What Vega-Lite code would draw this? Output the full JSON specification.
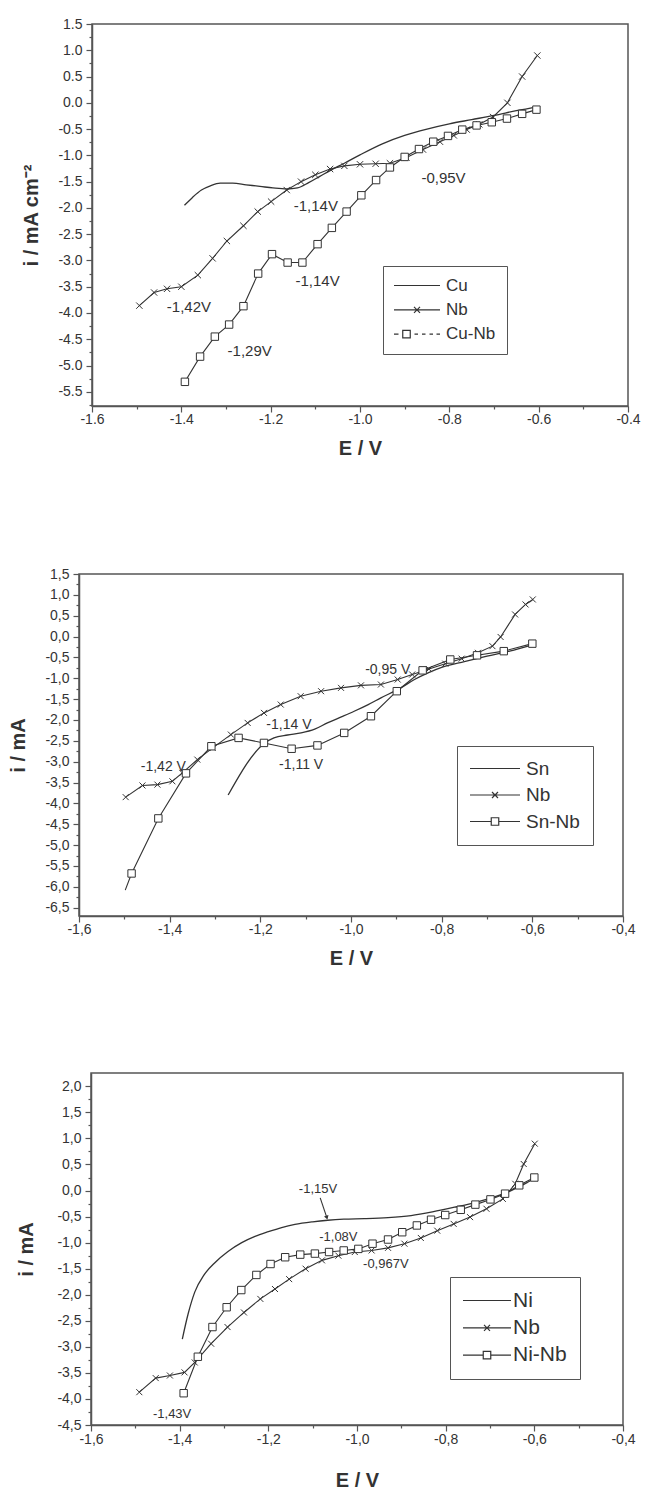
{
  "$schema": "https://vega.github.io/schema/vega-lite/v6.json",
  "padding": {"left": 5, "top": 16, "right": 5, "bottom": 0},
  "background": "white",
  "config": {
    "font": "Liberation Sans",
    "view": {"stroke": "#555", "strokeWidth": 1.5},
    "axis": {"grid": false, "domainColor": "#555", "domainWidth": 1.5, "tickColor": "#555", "tickWidth": 1.2, "labelColor": "#333", "titleColor": "#333", "labelFont": "Liberation Sans", "titleFont": "Liberation Sans", "labelFontSize": 14, "titleFontSize": 20, "titleFontWeight": "bold", "labelFlush": false, "labelOverlap": false},
    "axisX": {"labelPadding": 0},
    "axisY": {"labelPadding": 4}
  },
  "datasets": {
    "p1": [
      {"s":"Cu","E":-1.393,"i":-1.95},{"s":"Cu","E":-1.375,"i":-1.8},{"s":"Cu","E":-1.355,"i":-1.66},{"s":"Cu","E":-1.335,"i":-1.58},{"s":"Cu","E":-1.313,"i":-1.53},{"s":"Cu","E":-1.285,"i":-1.53},{"s":"Cu","E":-1.255,"i":-1.56},{"s":"Cu","E":-1.224,"i":-1.59},{"s":"Cu","E":-1.195,"i":-1.62},{"s":"Cu","E":-1.164,"i":-1.64},{"s":"Cu","E":-1.14,"i":-1.62},{"s":"Cu","E":-1.115,"i":-1.52},{"s":"Cu","E":-1.09,"i":-1.4},{"s":"Cu","E":-1.065,"i":-1.28},{"s":"Cu","E":-1.035,"i":-1.15},{"s":"Cu","E":-1.0,"i":-0.99},{"s":"Cu","E":-0.95,"i":-0.78},{"s":"Cu","E":-0.9,"i":-0.62},{"s":"Cu","E":-0.85,"i":-0.5},{"s":"Cu","E":-0.8,"i":-0.4},{"s":"Cu","E":-0.75,"i":-0.32},{"s":"Cu","E":-0.7,"i":-0.24},{"s":"Cu","E":-0.65,"i":-0.15},{"s":"Cu","E":-0.6,"i":-0.07},
      {"s":"Nb","E":-1.494,"i":-3.86},{"s":"Nb","E":-1.461,"i":-3.61},{"s":"Nb","E":-1.432,"i":-3.54},{"s":"Nb","E":-1.4,"i":-3.5},{"s":"Nb","E":-1.363,"i":-3.28},{"s":"Nb","E":-1.33,"i":-2.96},{"s":"Nb","E":-1.298,"i":-2.63},{"s":"Nb","E":-1.261,"i":-2.34},{"s":"Nb","E":-1.229,"i":-2.07},{"s":"Nb","E":-1.199,"i":-1.88},{"s":"Nb","E":-1.164,"i":-1.66},{"s":"Nb","E":-1.132,"i":-1.5},{"s":"Nb","E":-1.1,"i":-1.37},{"s":"Nb","E":-1.067,"i":-1.26},{"s":"Nb","E":-1.035,"i":-1.2},{"s":"Nb","E":-1.0,"i":-1.17},{"s":"Nb","E":-0.965,"i":-1.16},{"s":"Nb","E":-0.933,"i":-1.15},{"s":"Nb","E":-0.896,"i":-1.04},{"s":"Nb","E":-0.859,"i":-0.89},{"s":"Nb","E":-0.821,"i":-0.74},{"s":"Nb","E":-0.79,"i":-0.62},{"s":"Nb","E":-0.761,"i":-0.51},{"s":"Nb","E":-0.733,"i":-0.41},{"s":"Nb","E":-0.702,"i":-0.27},{"s":"Nb","E":-0.67,"i":0.0},{"s":"Nb","E":-0.637,"i":0.5},{"s":"Nb","E":-0.603,"i":0.9},
      {"s":"Cu-Nb","E":-1.392,"i":-5.31},{"s":"Cu-Nb","E":-1.358,"i":-4.83},{"s":"Cu-Nb","E":-1.325,"i":-4.45},{"s":"Cu-Nb","E":-1.293,"i":-4.22},{"s":"Cu-Nb","E":-1.261,"i":-3.87},{"s":"Cu-Nb","E":-1.228,"i":-3.25},{"s":"Cu-Nb","E":-1.197,"i":-2.88},{"s":"Cu-Nb","E":-1.162,"i":-3.04},{"s":"Cu-Nb","E":-1.129,"i":-3.04},{"s":"Cu-Nb","E":-1.095,"i":-2.69},{"s":"Cu-Nb","E":-1.063,"i":-2.38},{"s":"Cu-Nb","E":-1.03,"i":-2.07},{"s":"Cu-Nb","E":-0.997,"i":-1.76},{"s":"Cu-Nb","E":-0.964,"i":-1.47},{"s":"Cu-Nb","E":-0.933,"i":-1.23},{"s":"Cu-Nb","E":-0.9,"i":-1.03},{"s":"Cu-Nb","E":-0.868,"i":-0.88},{"s":"Cu-Nb","E":-0.836,"i":-0.74},{"s":"Cu-Nb","E":-0.803,"i":-0.63},{"s":"Cu-Nb","E":-0.771,"i":-0.51},{"s":"Cu-Nb","E":-0.739,"i":-0.43},{"s":"Cu-Nb","E":-0.705,"i":-0.37},{"s":"Cu-Nb","E":-0.671,"i":-0.3},{"s":"Cu-Nb","E":-0.637,"i":-0.21},{"s":"Cu-Nb","E":-0.605,"i":-0.13}
    ],
    "p1t": [
      {"t":"-0,95V","E":-0.813,"i":-1.43},{"t":"-1,14V","E":-1.099,"i":-1.96},{"t":"-1,14V","E":-1.095,"i":-3.39},{"t":"-1,42V","E":-1.383,"i":-3.88},{"t":"-1,29V","E":-1.247,"i":-4.72}
    ],
    "p2": [
      {"s":"Sn","E":-1.271,"i":-3.8},{"s":"Sn","E":-1.19,"i":-2.55},{"s":"Sn","E":-1.17,"i":-2.43},{"s":"Sn","E":-1.14,"i":-2.36},{"s":"Sn","E":-1.11,"i":-2.31},{"s":"Sn","E":-1.08,"i":-2.22},{"s":"Sn","E":-1.052,"i":-2.07},{"s":"Sn","E":-1.02,"i":-1.92},{"s":"Sn","E":-0.993,"i":-1.79},{"s":"Sn","E":-0.962,"i":-1.63},{"s":"Sn","E":-0.934,"i":-1.47},{"s":"Sn","E":-0.89,"i":-1.23},{"s":"Sn","E":-0.86,"i":-1.03},{"s":"Sn","E":-0.83,"i":-0.87},{"s":"Sn","E":-0.8,"i":-0.74},{"s":"Sn","E":-0.75,"i":-0.6},{"s":"Sn","E":-0.7,"i":-0.47},{"s":"Sn","E":-0.65,"i":-0.35},{"s":"Sn","E":-0.6,"i":-0.2},
      {"s":"Nb","E":-1.497,"i":-3.85},{"s":"Nb","E":-1.46,"i":-3.57},{"s":"Nb","E":-1.427,"i":-3.55},{"s":"Nb","E":-1.394,"i":-3.47},{"s":"Nb","E":-1.372,"i":-3.27},{"s":"Nb","E":-1.339,"i":-2.95},{"s":"Nb","E":-1.305,"i":-2.67},{"s":"Nb","E":-1.265,"i":-2.35},{"s":"Nb","E":-1.228,"i":-2.07},{"s":"Nb","E":-1.192,"i":-1.83},{"s":"Nb","E":-1.155,"i":-1.63},{"s":"Nb","E":-1.111,"i":-1.43},{"s":"Nb","E":-1.066,"i":-1.31},{"s":"Nb","E":-1.022,"i":-1.23},{"s":"Nb","E":-0.978,"i":-1.17},{"s":"Nb","E":-0.934,"i":-1.15},{"s":"Nb","E":-0.897,"i":-1.03},{"s":"Nb","E":-0.865,"i":-0.91},{"s":"Nb","E":-0.828,"i":-0.78},{"s":"Nb","E":-0.792,"i":-0.65},{"s":"Nb","E":-0.756,"i":-0.53},{"s":"Nb","E":-0.72,"i":-0.39},{"s":"Nb","E":-0.688,"i":-0.23},{"s":"Nb","E":-0.67,"i":-0.01},{"s":"Nb","E":-0.638,"i":0.53},{"s":"Nb","E":-0.615,"i":0.77},{"s":"Nb","E":-0.599,"i":0.89},
      {"s":"Sn-Nb","E":-1.498,"i":-6.08,"mk":0},{"s":"Sn-Nb","E":-1.484,"i":-5.68},{"s":"Sn-Nb","E":-1.425,"i":-4.36},{"s":"Sn-Nb","E":-1.364,"i":-3.28},{"s":"Sn-Nb","E":-1.308,"i":-2.63},{"s":"Sn-Nb","E":-1.248,"i":-2.43},{"s":"Sn-Nb","E":-1.192,"i":-2.55},{"s":"Sn-Nb","E":-1.131,"i":-2.69},{"s":"Sn-Nb","E":-1.074,"i":-2.61},{"s":"Sn-Nb","E":-1.015,"i":-2.31},{"s":"Sn-Nb","E":-0.956,"i":-1.91},{"s":"Sn-Nb","E":-0.899,"i":-1.31},{"s":"Sn-Nb","E":-0.842,"i":-0.81},{"s":"Sn-Nb","E":-0.781,"i":-0.55},{"s":"Sn-Nb","E":-0.722,"i":-0.45},{"s":"Sn-Nb","E":-0.663,"i":-0.35},{"s":"Sn-Nb","E":-0.6,"i":-0.17}
    ],
    "p2t": [
      {"t":"-0,95 V","E":-0.919,"i":-0.81},{"t":"-1,14 V","E":-1.137,"i":-2.13},{"t":"-1,11 V","E":-1.11,"i":-3.07},{"t":"-1,42 V","E":-1.414,"i":-3.12}
    ],
    "p3": [
      {"s":"Ni","E":-1.394,"i":-2.85},{"s":"Ni","E":-1.381,"i":-2.37},{"s":"Ni","E":-1.366,"i":-1.95},{"s":"Ni","E":-1.345,"i":-1.62},{"s":"Ni","E":-1.32,"i":-1.38},{"s":"Ni","E":-1.291,"i":-1.17},{"s":"Ni","E":-1.26,"i":-1.0},{"s":"Ni","E":-1.23,"i":-0.88},{"s":"Ni","E":-1.2,"i":-0.79},{"s":"Ni","E":-1.17,"i":-0.71},{"s":"Ni","E":-1.14,"i":-0.65},{"s":"Ni","E":-1.1,"i":-0.6},{"s":"Ni","E":-1.066,"i":-0.57},{"s":"Ni","E":-1.03,"i":-0.55},{"s":"Ni","E":-0.983,"i":-0.54},{"s":"Ni","E":-0.93,"i":-0.52},{"s":"Ni","E":-0.878,"i":-0.48},{"s":"Ni","E":-0.83,"i":-0.41},{"s":"Ni","E":-0.78,"i":-0.32},{"s":"Ni","E":-0.73,"i":-0.22},{"s":"Ni","E":-0.69,"i":-0.12},{"s":"Ni","E":-0.66,"i":-0.03},{"s":"Ni","E":-0.635,"i":0.07},{"s":"Ni","E":-0.615,"i":0.16},{"s":"Ni","E":-0.6,"i":0.23},
      {"s":"Nb","E":-1.491,"i":-3.87},{"s":"Nb","E":-1.454,"i":-3.6},{"s":"Nb","E":-1.422,"i":-3.55},{"s":"Nb","E":-1.389,"i":-3.49},{"s":"Nb","E":-1.366,"i":-3.3},{"s":"Nb","E":-1.329,"i":-2.94},{"s":"Nb","E":-1.292,"i":-2.62},{"s":"Nb","E":-1.255,"i":-2.34},{"s":"Nb","E":-1.218,"i":-2.08},{"s":"Nb","E":-1.185,"i":-1.89},{"s":"Nb","E":-1.153,"i":-1.7},{"s":"Nb","E":-1.116,"i":-1.5},{"s":"Nb","E":-1.079,"i":-1.34},{"s":"Nb","E":-1.042,"i":-1.25},{"s":"Nb","E":-1.005,"i":-1.18},{"s":"Nb","E":-0.967,"i":-1.15},{"s":"Nb","E":-0.93,"i":-1.1},{"s":"Nb","E":-0.893,"i":-1.02},{"s":"Nb","E":-0.856,"i":-0.91},{"s":"Nb","E":-0.819,"i":-0.77},{"s":"Nb","E":-0.782,"i":-0.64},{"s":"Nb","E":-0.745,"i":-0.51},{"s":"Nb","E":-0.708,"i":-0.35},{"s":"Nb","E":-0.671,"i":-0.16},{"s":"Nb","E":-0.643,"i":0.13},{"s":"Nb","E":-0.624,"i":0.51},{"s":"Nb","E":-0.599,"i":0.9},
      {"s":"Ni-Nb","E":-1.391,"i":-3.89},{"s":"Ni-Nb","E":-1.359,"i":-3.19},{"s":"Ni-Nb","E":-1.326,"i":-2.62},{"s":"Ni-Nb","E":-1.294,"i":-2.24},{"s":"Ni-Nb","E":-1.261,"i":-1.91},{"s":"Ni-Nb","E":-1.227,"i":-1.62},{"s":"Ni-Nb","E":-1.195,"i":-1.41},{"s":"Ni-Nb","E":-1.162,"i":-1.28},{"s":"Ni-Nb","E":-1.128,"i":-1.23},{"s":"Ni-Nb","E":-1.095,"i":-1.21},{"s":"Ni-Nb","E":-1.063,"i":-1.18},{"s":"Ni-Nb","E":-1.03,"i":-1.15},{"s":"Ni-Nb","E":-0.997,"i":-1.12},{"s":"Ni-Nb","E":-0.965,"i":-1.02},{"s":"Ni-Nb","E":-0.93,"i":-0.94},{"s":"Ni-Nb","E":-0.898,"i":-0.8},{"s":"Ni-Nb","E":-0.865,"i":-0.67},{"s":"Ni-Nb","E":-0.833,"i":-0.56},{"s":"Ni-Nb","E":-0.801,"i":-0.47},{"s":"Ni-Nb","E":-0.766,"i":-0.37},{"s":"Ni-Nb","E":-0.733,"i":-0.27},{"s":"Ni-Nb","E":-0.699,"i":-0.17},{"s":"Ni-Nb","E":-0.666,"i":-0.06},{"s":"Ni-Nb","E":-0.634,"i":0.1},{"s":"Ni-Nb","E":-0.6,"i":0.25}
    ],
    "p3t": [
      {"t":"-1,15V","E":-1.088,"i":0.03},{"t":"-1,08V","E":-1.042,"i":-0.895},{"t":"-0,967V","E":-0.935,"i":-1.41},{"t":"-1,43V","E":-1.417,"i":-4.29}
    ],
    "p3a": [
      {"E":-1.083,"i":-0.14,"E2":-1.068,"i2":-0.52}
    ]
  },
  "vconcat": [
    {
      "hconcat": [
        {"width": 16, "height": 1, "view": {"stroke": null}, "data": {"values": []}, "mark": {"type": "point", "opacity": 0}},
        {
          "width": 536,
          "height": 382,
          "encoding": {
            "x": {"field": "E", "type": "quantitative", "scale": {"domain": [-1.6, -0.4], "nice": false, "zero": false},
              "axis": {"title": "E / V", "titlePadding": 12, "values": [-1.6,-1.5,-1.4,-1.3,-1.2,-1.1,-1.0,-0.9,-0.8,-0.7,-0.6,-0.5,-0.4],
                "labelExpr": "abs(datum.value*5-round(datum.value*5))<0.01 ? replace(format(datum.value,'.1f'),'−','-') : ''",
                "tickSize": {"condition": {"test": "abs(datum.value*5-round(datum.value*5))<0.01", "value": 6}, "value": 3}}},
            "y": {"field": "i", "type": "quantitative", "scale": {"domain": [-5.77, 1.5], "nice": false, "zero": false},
              "axis": {"title": "i / mA cm⁻²", "titlePadding": 16, "values": [1.5,1.25,1,0.75,0.5,0.25,0,-0.25,-0.5,-0.75,-1,-1.25,-1.5,-1.75,-2,-2.25,-2.5,-2.75,-3,-3.25,-3.5,-3.75,-4,-4.25,-4.5,-4.75,-5,-5.25,-5.5,-5.75],
                "labelExpr": "abs(datum.value*2-round(datum.value*2))<0.01 ? replace(format(datum.value,'.1f'),'−','-') : ''",
                "tickSize": {"condition": {"test": "abs(datum.value*2-round(datum.value*2))<0.01", "value": 6}, "value": 3}}}
          },
          "layer": [
            {"data": {"name": "p1"}, "transform": [{"filter": "datum.s == 'Cu'"}], "mark": {"type": "line", "interpolate": "monotone", "color": "#333", "strokeWidth": 1.3}},
            {"data": {"name": "p1"}, "transform": [{"filter": "datum.s != 'Cu'"}], "mark": {"type": "line", "color": "#333", "strokeWidth": 1.1}, "encoding": {"detail": {"field": "s"}}},
            {"data": {"name": "p1"}, "transform": [{"filter": "datum.s == 'Nb'"}], "mark": {"type": "point", "shape": "M-1,-1L1,1M-1,1L1,-1", "size": 40, "color": "#333", "strokeWidth": 1, "opacity": 1}},
            {"data": {"name": "p1"}, "transform": [{"filter": "datum.s == 'Cu-Nb'"}], "mark": {"type": "point", "shape": "square", "size": 55, "filled": true, "fill": "white", "stroke": "#333", "strokeWidth": 1, "opacity": 1}},
            {"data": {"name": "p1"}, "mark": {"type": "point", "opacity": 0, "color": "#333"},
              "encoding": {"shape": {"field": "s", "type": "nominal",
                "scale": {"domain": ["Cu", "Nb", "Cu-Nb"], "range": ["M-4.6,0H4.6", "M-4.6,0H4.6M-0.6,-0.6L0.6,0.6M-0.6,0.6L0.6,-0.6", "M-4.6,0H-3.7M-2.85,-0.75H-1.35V0.75H-2.85ZM-0.5,0H0.2M1,0H1.7M2.5,0H3.2M3.9,0H4.6"]},
                "legend": {"title": null, "orient": "none", "legendX": 291, "legendY": 242, "symbolSize": 100, "symbolStrokeWidth": 1.2, "symbolStrokeColor": "#333", "symbolFillColor": "transparent", "symbolOpacity": 1, "symbolOffset": 14.5, "labelOffset": 20.5, "labelFontSize": 17, "labelFont": "Liberation Sans", "labelColor": "#333", "strokeColor": "#555", "padding": 11, "rowPadding": 6.3}}}},
            {"data": {"name": "p1t"}, "mark": {"type": "text", "fontSize": 15, "color": "#333", "font": "Liberation Sans"}, "encoding": {"text": {"field": "t"}}}
          ]
        }
      ],
      "spacing": 0,
      "resolve": {"scale": {"shape": "independent"}, "legend": {"shape": "independent"}}
    },
    {
      "vconcat": [
        {
          "hconcat": [
            {"width": 2, "height": 1, "view": {"stroke": null}, "data": {"values": []}, "mark": {"type": "point", "opacity": 0}},
            {
              "width": 544,
              "height": 342,
              "encoding": {
                "x": {"field": "E", "type": "quantitative", "scale": {"domain": [-1.6, -0.4], "nice": false, "zero": false},
                  "axis": {"title": "E / V", "titlePadding": 12, "values": [-1.6,-1.5,-1.4,-1.3,-1.2,-1.1,-1.0,-0.9,-0.8,-0.7,-0.6,-0.5,-0.4],
                    "labelExpr": "abs(datum.value*5-round(datum.value*5))<0.01 ? replace(replace(format(datum.value,'.1f'),'−','-'),'.',',') : ''",
                    "tickSize": {"condition": {"test": "abs(datum.value*5-round(datum.value*5))<0.01", "value": 6}, "value": 3}}},
                "y": {"field": "i", "type": "quantitative", "scale": {"domain": [-6.7, 1.5], "nice": false, "zero": false},
                  "axis": {"title": "i / mA", "titlePadding": 16.5, "values": [1.5,1.25,1,0.75,0.5,0.25,0,-0.25,-0.5,-0.75,-1,-1.25,-1.5,-1.75,-2,-2.25,-2.5,-2.75,-3,-3.25,-3.5,-3.75,-4,-4.25,-4.5,-4.75,-5,-5.25,-5.5,-5.75,-6,-6.25,-6.5],
                    "labelExpr": "abs(datum.value*2-round(datum.value*2))<0.01 ? replace(replace(format(datum.value,'.1f'),'−','-'),'.',',') : ''",
                    "tickSize": {"condition": {"test": "abs(datum.value*2-round(datum.value*2))<0.01", "value": 6}, "value": 3}}}
              },
              "layer": [
                {"data": {"name": "p2"}, "transform": [{"filter": "datum.s == 'Sn'"}], "mark": {"type": "line", "interpolate": "monotone", "color": "#333", "strokeWidth": 1.3}},
                {"data": {"name": "p2"}, "transform": [{"filter": "datum.s != 'Sn'"}], "mark": {"type": "line", "color": "#333", "strokeWidth": 1.1}, "encoding": {"detail": {"field": "s"}}},
                {"data": {"name": "p2"}, "transform": [{"filter": "datum.s == 'Nb'"}], "mark": {"type": "point", "shape": "M-1,-1L1,1M-1,1L1,-1", "size": 36, "color": "#333", "strokeWidth": 1, "opacity": 1}},
                {"data": {"name": "p2"}, "transform": [{"filter": "datum.s == 'Sn-Nb' && datum.mk !== 0"}], "mark": {"type": "point", "shape": "square", "size": 55, "filled": true, "fill": "white", "stroke": "#333", "strokeWidth": 1, "opacity": 1}},
                {"data": {"name": "p2"}, "mark": {"type": "point", "opacity": 0, "color": "#333"},
                  "encoding": {"shape": {"field": "s", "type": "nominal",
                    "scale": {"domain": ["Sn", "Nb", "Sn-Nb"], "range": ["M-5,0H5", "M-5,0H5M-0.6,-0.6L0.6,0.6M-0.6,0.6L0.6,-0.6", "M-5,0H-0.75M0.75,0H5M-0.75,-0.75H0.75V0.75H-0.75Z"]},
                    "legend": {"title": null, "orient": "none", "legendX": 378, "legendY": 172, "symbolSize": 100, "symbolStrokeWidth": 1.2, "symbolStrokeColor": "#333", "symbolFillColor": "transparent", "symbolOpacity": 1, "symbolOffset": 15.5, "labelOffset": 21.5, "labelFontSize": 19, "labelFont": "Liberation Sans", "labelColor": "#333", "strokeColor": "#555", "padding": 13, "rowPadding": 6.5}}}},
                {"data": {"name": "p2t"}, "mark": {"type": "text", "fontSize": 14, "color": "#333", "font": "Liberation Sans"}, "encoding": {"text": {"field": "t"}}}
              ]
            }
          ],
          "spacing": 0,
          "resolve": {"scale": {"shape": "independent"}, "legend": {"shape": "independent"}}
        },
        {
          "hconcat": [
            {"width": 10, "height": 1, "view": {"stroke": null}, "data": {"values": []}, "mark": {"type": "point", "opacity": 0}},
            {
              "width": 532,
              "height": 352,
              "encoding": {
                "x": {"field": "E", "type": "quantitative", "scale": {"domain": [-1.6, -0.4], "nice": false, "zero": false},
                  "axis": {"title": "E / V", "titlePadding": 24, "labelPadding": 1, "values": [-1.6,-1.5,-1.4,-1.3,-1.2,-1.1,-1.0,-0.9,-0.8,-0.7,-0.6,-0.5,-0.4],
                    "labelExpr": "abs(datum.value*5-round(datum.value*5))<0.01 ? replace(replace(format(datum.value,'.1f'),'−','-'),'.',',') : ''",
                    "tickSize": {"condition": {"test": "abs(datum.value*5-round(datum.value*5))<0.01", "value": 6}, "value": 3}}},
                "y": {"field": "i", "type": "quantitative", "scale": {"domain": [-4.5, 2.256], "nice": false, "zero": false},
                  "axis": {"title": "i / mA", "titlePadding": 20.8, "values": [2,1.75,1.5,1.25,1,0.75,0.5,0.25,0,-0.25,-0.5,-0.75,-1,-1.25,-1.5,-1.75,-2,-2.25,-2.5,-2.75,-3,-3.25,-3.5,-3.75,-4,-4.25,-4.5],
                    "labelExpr": "abs(datum.value*2-round(datum.value*2))<0.01 ? replace(replace(format(datum.value,'.1f'),'−','-'),'.',',') : ''",
                    "tickSize": {"condition": {"test": "abs(datum.value*2-round(datum.value*2))<0.01", "value": 6}, "value": 3}}}
              },
              "layer": [
                {"data": {"name": "p3"}, "transform": [{"filter": "datum.s == 'Ni'"}], "mark": {"type": "line", "interpolate": "monotone", "color": "#333", "strokeWidth": 1.3}},
                {"data": {"name": "p3"}, "transform": [{"filter": "datum.s != 'Ni'"}], "mark": {"type": "line", "color": "#333", "strokeWidth": 1.1}, "encoding": {"detail": {"field": "s"}}},
                {"data": {"name": "p3"}, "transform": [{"filter": "datum.s == 'Nb'"}], "mark": {"type": "point", "shape": "M-1,-1L1,1M-1,1L1,-1", "size": 36, "color": "#333", "strokeWidth": 1, "opacity": 1}},
                {"data": {"name": "p3"}, "transform": [{"filter": "datum.s == 'Ni-Nb'"}], "mark": {"type": "point", "shape": "square", "size": 55, "filled": true, "fill": "white", "stroke": "#333", "strokeWidth": 1, "opacity": 1}},
                {"data": {"name": "p3"}, "mark": {"type": "point", "opacity": 0, "color": "#333"},
                  "encoding": {"shape": {"field": "s", "type": "nominal",
                    "scale": {"domain": ["Ni", "Nb", "Ni-Nb"], "range": ["M-4.8,0H4.8", "M-4.8,0H4.8M-0.6,-0.6L0.6,0.6M-0.6,0.6L0.6,-0.6", "M-4.8,0H-0.75M0.75,0H4.8M-0.75,-0.75H0.75V0.75H-0.75Z"]},
                    "legend": {"title": null, "orient": "none", "legendX": 359, "legendY": 204, "symbolSize": 100, "symbolStrokeWidth": 1.2, "symbolStrokeColor": "#333", "symbolFillColor": "transparent", "symbolOpacity": 1, "symbolOffset": 13.5, "labelOffset": 15.5, "labelFontSize": 21, "labelFont": "Liberation Sans", "labelColor": "#333", "strokeColor": "#555", "padding": 13, "rowPadding": 5.3}}}},
                {"data": {"name": "p3t"}, "mark": {"type": "text", "fontSize": 13, "color": "#333", "font": "Liberation Sans"}, "encoding": {"text": {"field": "t"}}},
                {"data": {"name": "p3a"}, "mark": {"type": "rule", "color": "#333", "strokeWidth": 1.1}, "encoding": {"x2": {"field": "E2"}, "y2": {"field": "i2"}}},
                {"data": {"name": "p3a"}, "mark": {"type": "point", "shape": "triangle-down", "filled": true, "size": 22, "color": "#333", "angle": 342, "opacity": 1}, "encoding": {"x": {"field": "E2", "type": "quantitative"}, "y": {"field": "i2", "type": "quantitative"}}}
              ]
            }
          ],
          "spacing": 0,
          "resolve": {"scale": {"shape": "independent"}, "legend": {"shape": "independent"}}
        }
      ],
      "spacing": 103,
      "resolve": {"scale": {"shape": "independent"}, "legend": {"shape": "independent"}}
    }
  ],
  "spacing": 107,
  "resolve": {"scale": {"shape": "independent"}, "legend": {"shape": "independent"}}
}
